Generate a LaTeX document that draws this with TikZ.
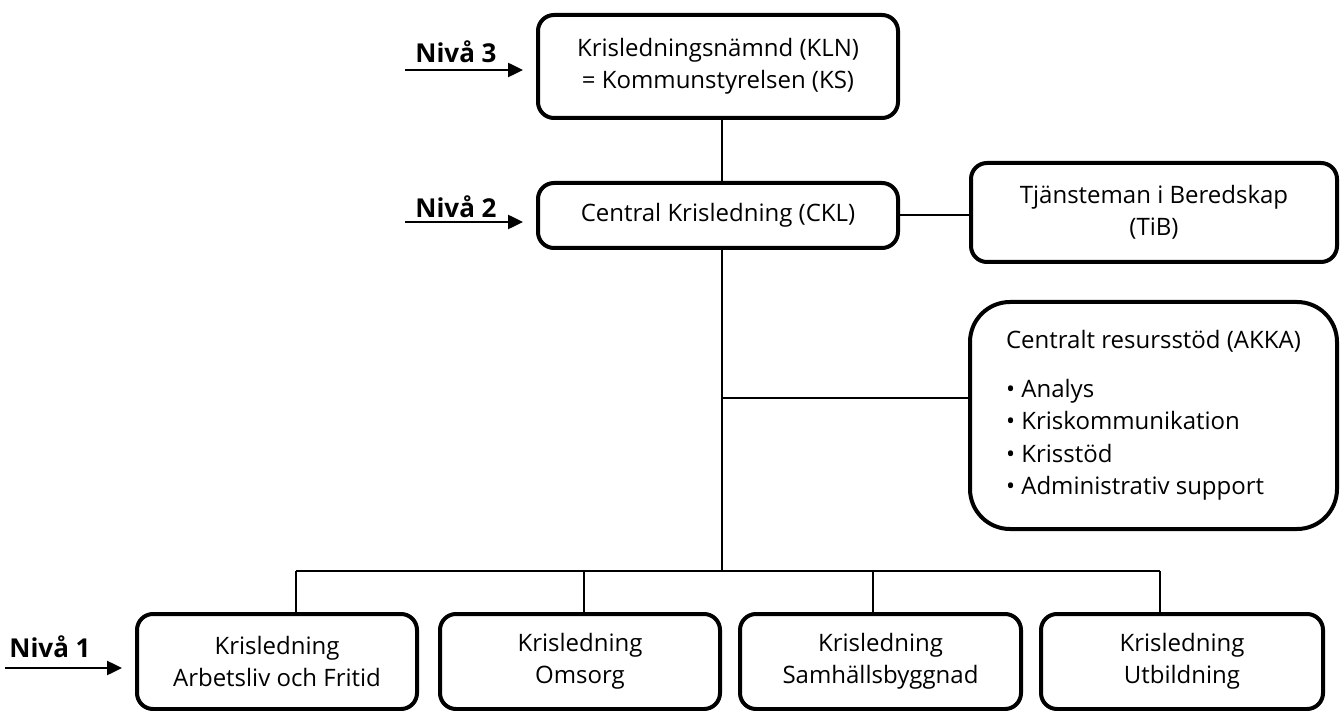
\documentclass[tikz,border=0pt]{standalone}
\usepackage{fontspec}
\setmainfont{Open Sans}
\usetikzlibrary{arrows.meta}
\tikzset{
  orgbox/.style={draw, line width=4pt, rounded corners=16pt, align=center, inner sep=0pt,
    font=\fontsize{24}{32.5}\selectfont},
  link/.style={line width=2pt},
  levelarrow/.style={line width=2.5pt, -{Triangle[length=15pt,width=14pt]}, shorten >=13pt},
  levellabel/.style={font=\fontsize{26}{30}\selectfont\bfseries}
}
\begin{document}
\begin{tikzpicture}[x=1pt,y=-1pt]
\useasboundingbox (0,0) rectangle (1341,711);

\node[orgbox, minimum width=360pt, minimum height=103pt] (kln) at (718,66.5) {Krisledningsnämnd (KLN)\\= Kommunstyrelsen (KS)};
\node[orgbox, minimum width=360pt, minimum height=65pt] (ckl) at (718,215.5) {Central Krisledning (CKL)};
\node[orgbox, minimum width=366pt, minimum height=99pt] (tib) at (1154,212.5) {Tjänsteman i Beredskap\\(TiB)};
\node[orgbox, rounded corners=40pt, align=left, minimum width=367pt, minimum height=227pt] (akka) at (1153.5,415.5)
  {Centralt resursstöd (AKKA)\\[16pt]\textbullet\ Analys\\\textbullet\ Kriskommunikation\\\textbullet\ Krisstöd\\\textbullet\ Administrativ support};

\node[orgbox, minimum width=280pt, minimum height=95pt] (b1) at (277,661.5) {Krisledning\\Arbetsliv och Fritid};
\node[orgbox, minimum width=280pt, minimum height=95pt] (b2) at (580,661.5) {Krisledning\\Omsorg};
\node[orgbox, minimum width=281pt, minimum height=95pt] (b3) at (880.5,661.5) {Krisledning\\Samhällsbyggnad};
\node[orgbox, minimum width=282pt, minimum height=95pt] (b4) at (1182,661.5) {Krisledning\\Utbildning};

\coordinate (mid) at (722,398);
\coordinate (bus) at (722,571);
\coordinate (d1) at (296,571);
\coordinate (d2) at (584,571);
\coordinate (d3) at (873,571);
\coordinate (d4) at (1160,571);

\draw[link] (kln.south -| bus) -- (ckl.north -| bus);
\draw[link] (ckl.south -| bus) -- (bus);
\draw[link] (ckl.east) -- (ckl.east -| tib.west);
\draw[link] (mid) -- (mid -| akka.west);
\draw[link] (d1) -- (d4);
\foreach \d/\b in {d1/b1, d2/b2, d3/b3, d4/b4}
  \draw[link] (\d) -- (\d |- \b.north);

\node[levellabel] (n3) at (456,52) {Nivå 3};
\node[levellabel] (n2) at (456,207) {Nivå 2};
\node[levellabel] (n1) at (50,647) {Nivå 1};
\coordinate (a3) at (405,70);
\coordinate (a2) at (405,222);
\coordinate (a1) at (5,668);
\draw[levelarrow] (a3) -- (a3 -| kln.west);
\draw[levelarrow] (a2) -- (a2 -| ckl.west);
\draw[levelarrow] (a1) -- (a1 -| b1.west);
\end{tikzpicture}
\end{document}
